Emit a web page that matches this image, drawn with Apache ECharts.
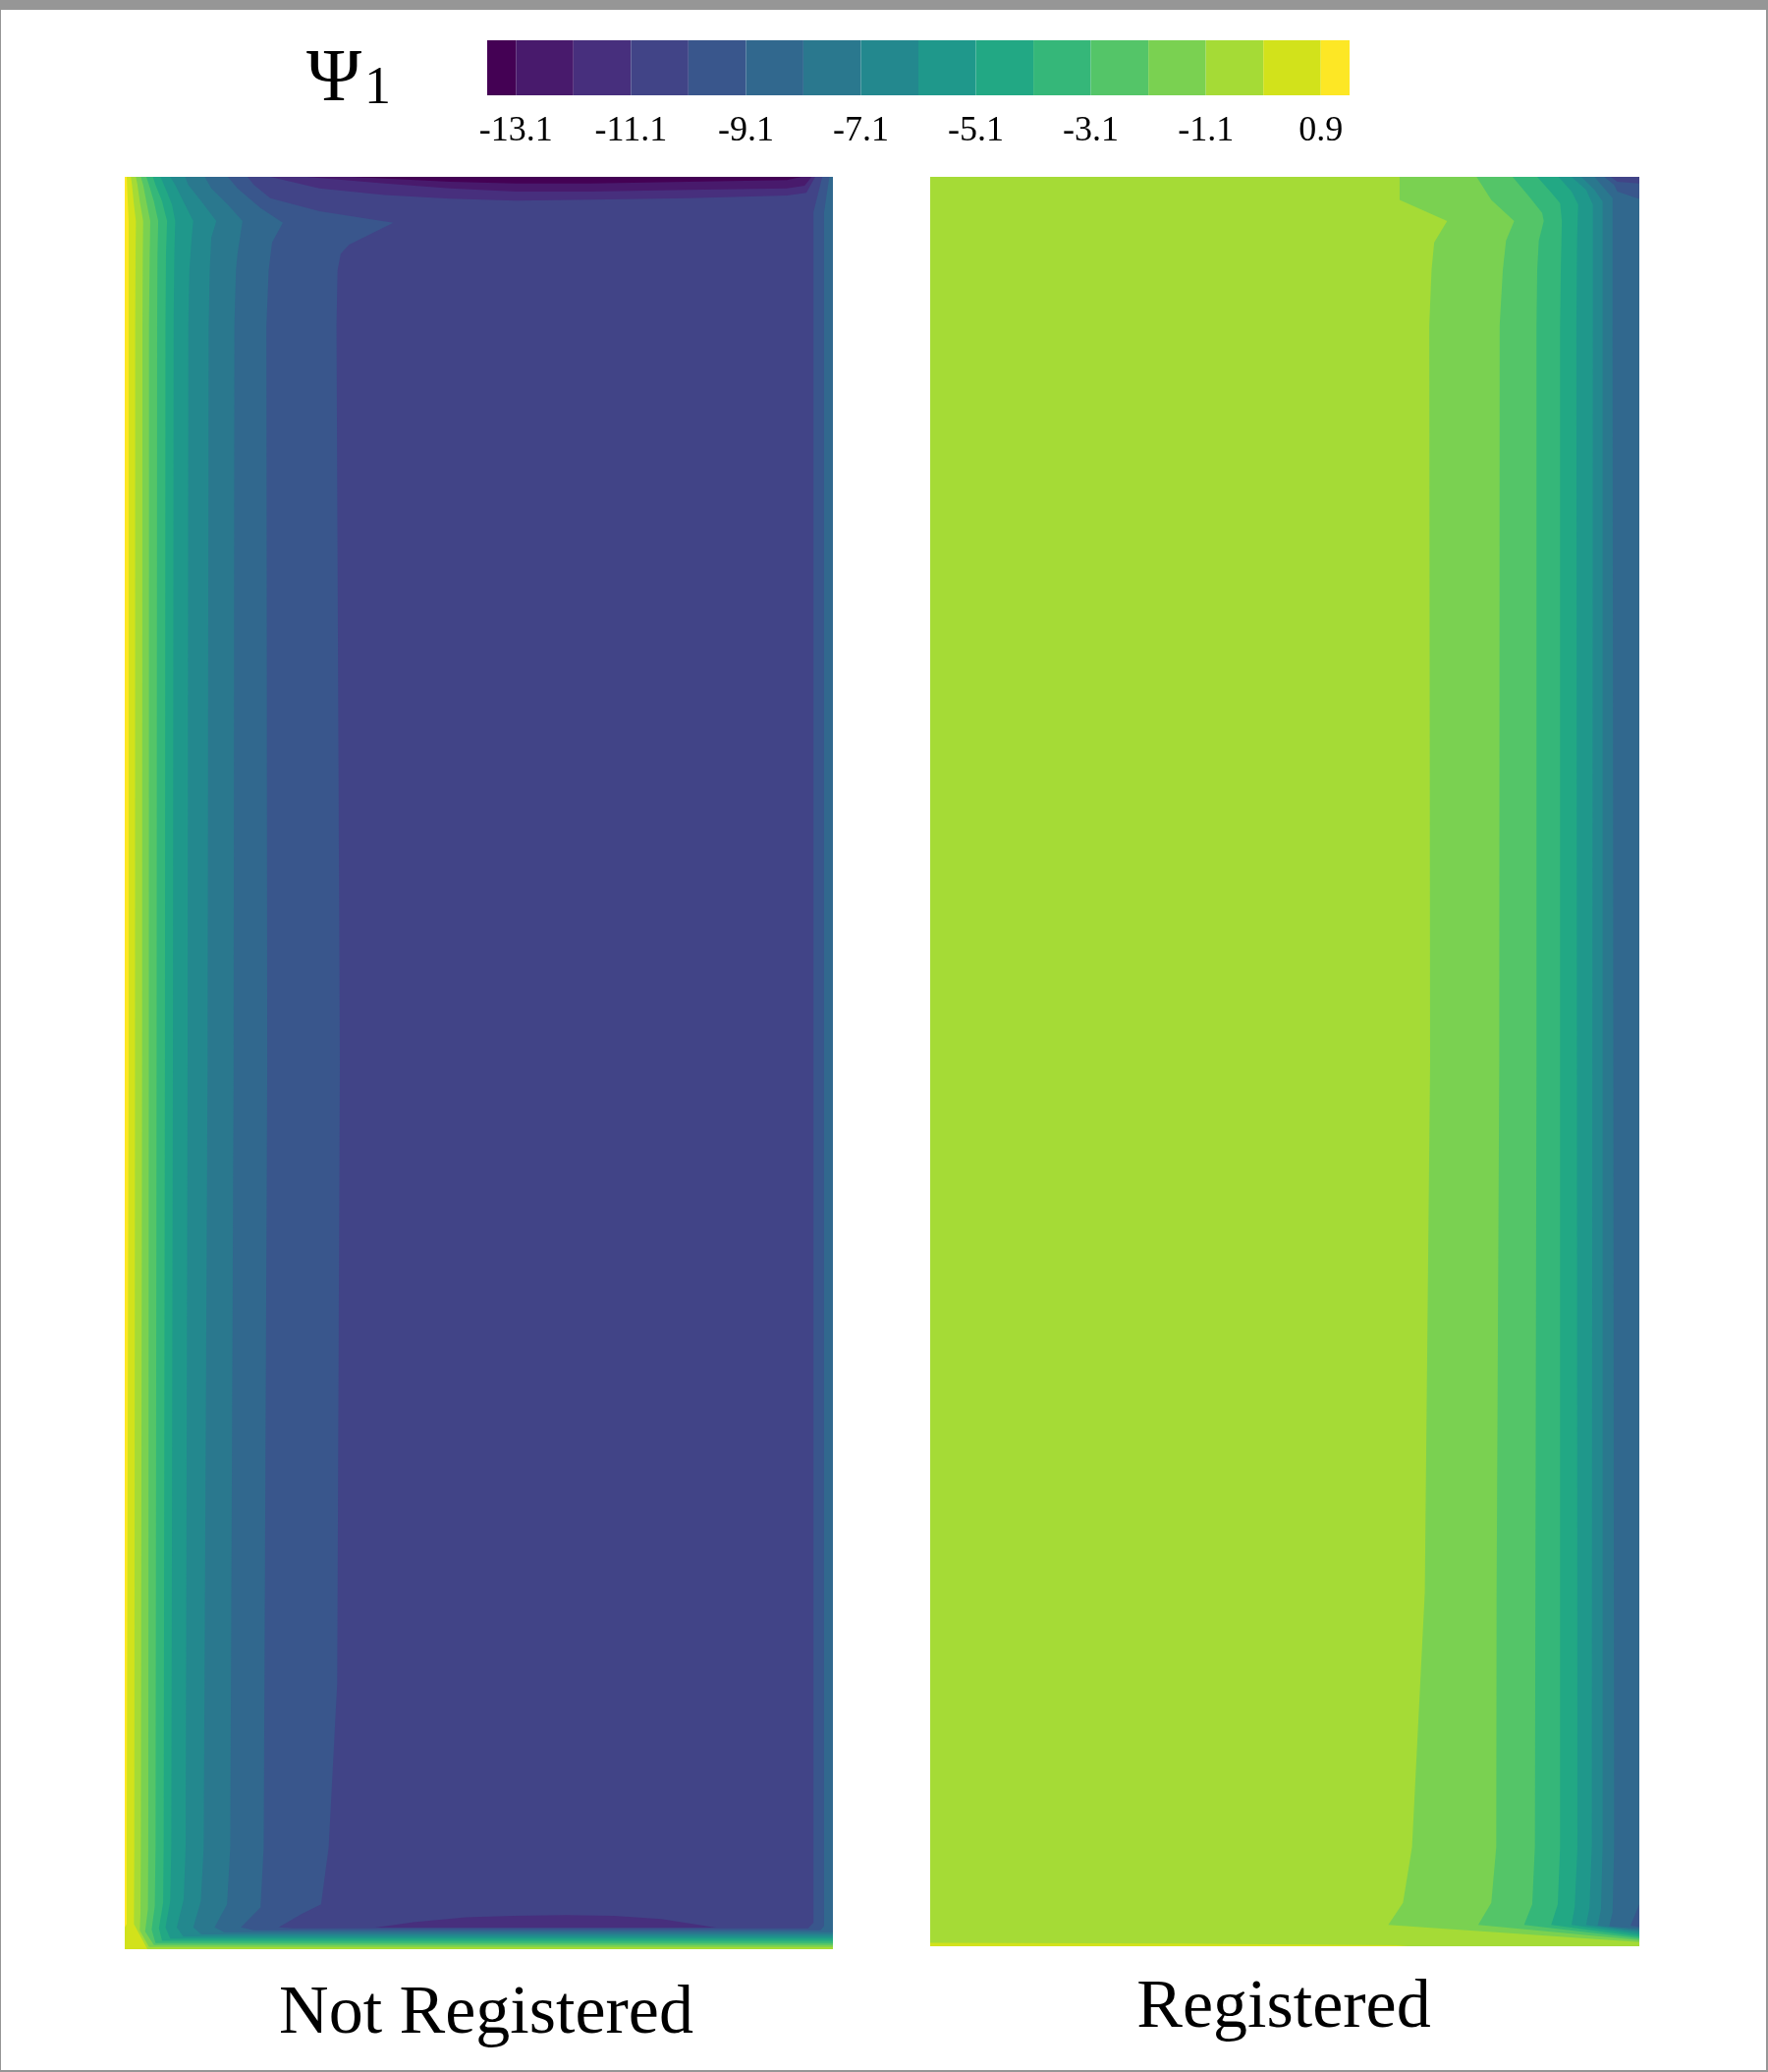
<!DOCTYPE html>
<html><head><meta charset="utf-8">
<script src="https://cdn.jsdelivr.net/npm/echarts/dist/echarts.min.js"></script>
<style>html,body{margin:0;padding:0;background:#fff}#c{width:1800px;height:2109px}</style>
</head><body><div id="c"></div>
<script>
// ---- colour scale (contour band edges of Psi_1) ----
const bandEdges = [-13.6,-13.1,-12.1,-11.1,-10.1,-9.1,-8.1,-7.1,-6.1,-5.1,-4.1,-3.1,-2.1,-1.1,-0.1,0.9,1.4];
const palette = ['#440154','#481a6c','#472f7d','#414487','#39568c','#31688e','#2a788e','#23888e',
                 '#1f988b','#22a884','#35b779','#54c568','#7ad151','#a5db36','#d2e21b','#fde725'];
const tickValues = [-13.1,-11.1,-9.1,-7.1,-5.1,-3.1,-1.1,0.9];
const panelTitles = ['Not Registered','Registered'];

// ---- contour lines, domain x 0..40, y 0..100 (from top) ----
// "Not Registered" panel: interior value band and contour lines
const NR_interior = -10.6;
const NR_b0  = [[0.11,0],[0.13,0.46],[0.17,1.39],[0.22,2.49],[0.22,8.41],[0.22,50],[0.11,94.24],[0.11,98.58],[0,98.76]];
const NR_b1  = [[0.35,0],[0.41,0.46],[0.5,1.39],[0.63,2.49],[0.61,4.34],[0.59,8.41],[0.58,50],[0.54,94.24],[0.52,98.58],[1.28,100]];
const NR_b2  = [[0.63,0],[0.72,0.46],[0.85,1.39],[1.04,2.49],[1.02,4.34],[1.0,8.41],[0.98,50],[0.91,94.24],[0.89,97.93],[0.85,98.95],[1.37,99.88],[40,99.88]];
const NR_b3  = [[0.91,0],[1.04,0.46],[1.22,1.39],[1.44,2.49],[1.41,4.34],[1.37,8.41],[1.36,50],[1.33,94.24],[1.31,97.74],[1.15,99.0],[1.65,99.76],[40,99.76]];
const NR_b4  = [[1.22,0],[1.37,0.46],[1.65,1.39],[1.89,2.49],[1.85,4.34],[1.83,8.41],[1.8,50],[1.74,94.24],[1.70,97.56],[1.52,98.89],[1.74,99.65],[40,99.65]];
const NR_b5  = [[1.59,0],[1.74,0.46],[2.11,1.39],[2.39,2.49],[2.33,4.34],[2.30,8.41],[2.27,50],[2.20,94.24],[2.17,97.37],[1.93,98.82],[2.11,99.53],[40,99.53]];
const NR_b6  = [[2.02,0],[2.30,0.65],[2.67,1.57],[2.85,2.49],[2.80,4.34],[2.76,8.41],[2.72,50],[2.63,94.24],[2.57,97.28],[2.30,98.76],[2.57,99.41],[40,99.41]];
const NR_b7  = [[2.57,0],[2.85,0.46],[3.31,1.39],[3.87,2.49],[3.78,3.42],[3.65,5.27],[3.59,8.41],[3.55,50],[3.44,94.24],[3.33,97.19],[2.94,98.76],[3.31,99.29],[40,99.29]];
const NR_b8  = [[3.41,0],[3.59,0.46],[4.33,1.39],[5.17,2.49],[4.89,3.42],[4.80,5.27],[4.74,8.41],[4.68,50],[4.46,94.24],[4.30,97.28],[3.87,98.76],[4.33,99.17],[40,99.17]];
const NR_b9  = [[4.52,0],[4.89,0.65],[5.82,1.57],[6.65,2.49],[6.37,4.34],[6.28,5.27],[6.19,8.41],[6.15,50],[5.96,94.24],[5.78,97.47],[5.07,98.76],[5.63,99.05],[40,99.05]];
const NR_b10 = [[5.82,0],[6.37,0.65],[7.67,1.76],[8.93,2.59],[8.32,3.70],[8.13,5.27],[8.0,8.41],[8.05,50],[7.85,94.24],[7.67,97.65],[6.56,98.76],[7.30,98.93],[39.3,98.93],[39.5,98.7],[39.5,2.0],[39.8,0]];
const NR_b11 = [[6.93,0],[7.30,0.46],[8.22,1.20],[11.0,1.94],[15.17,2.59],[12.67,3.82],[12.2,4.34],[12.02,5.27],[11.96,8.41],[12.15,50],[12.0,85],[11.52,94.24],[11.09,97.47],[9.98,98.02],[8.69,98.76],[9.52,98.82],[38.6,98.82],[38.9,98.5],[38.9,2.0],[39.4,0]];
const NR_t11 = [[8.22,0],[11.0,0.65],[14.7,1.02],[18.4,1.23],[22.1,1.35],[26.3,1.29],[31.8,1.2],[37.4,1.05],[38.5,0.9],[39.0,0]];
const NR_t12 = [[10.3,0],[14.7,0.37],[18.4,0.65],[22.1,0.83],[26.3,0.83],[31.8,0.74],[37.4,0.65],[38.4,0.5],[38.8,0]];
const NR_t13 = [[12.85,0],[18.4,0.28],[22.1,0.37],[26.3,0.37],[31.8,0.28],[37.4,0.18],[38.2,0]];
const NR_lens = [[14.15,98.78],[16.3,98.48],[19.27,98.2],[21.96,98.11],[24.9,98.08],[27.6,98.11],[30.3,98.3],[33.4,98.78]];

// "Registered" panel
const R_interior = -0.6;
const R_c0  = [[0,99.8],[14,99.85],[26.3,99.95],[27,100]];
const R_c1  = [[26.48,0],[26.48,1.30],[29.16,2.50],[28.43,3.70],[28.28,5.27],[28.15,8.42],[28.2,50],[27.9,80],[27.18,94.39],[26.67,97.54],[25.84,98.79],[40,99.76]];
const R_c2  = [[30.82,0],[31.65,1.30],[32.94,2.50],[32.48,3.61],[32.3,5.27],[32.12,8.42],[32.1,50],[31.95,80],[31.93,94.39],[31.65,97.54],[30.91,98.79],[40,99.65]];
const R_c3  = [[32.85,0],[33.78,1.11],[34.52,2.04],[34.61,2.50],[34.33,3.61],[34.24,5.27],[34.2,8.42],[34.2,50],[34.11,94.39],[33.96,97.63],[33.5,98.79],[40,99.55]];
const R_c4  = [[34.24,0],[34.98,0.83],[35.53,1.48],[35.63,2.5],[35.57,5.27],[35.53,8.42],[35.53,94.39],[35.4,97.63],[35.03,98.79],[40,99.46]];
const R_c5  = [[35.44,0],[36.18,0.83],[36.55,1.57],[36.49,3.42],[36.45,8.42],[36.51,94.39],[36.36,97.72],[36.18,98.79],[40,99.35]];
const R_c6  = [[36.18,0],[37.0,0.74],[37.38,1.57],[37.38,8.42],[37.32,94.39],[37.19,97.81],[37.0,98.79],[40,99.24]];
const R_c7  = [[36.73,0],[37.47,0.74],[37.93,1.39],[37.93,8.42],[37.93,94.39],[37.84,97.91],[37.65,98.83],[40,99.13]];
const R_c8  = [[37.47,0],[38.02,0.65],[38.49,1.2],[38.49,8.42],[38.58,94.39],[38.49,98.09],[38.3,98.87],[40,99.02]];
const R_c9a = [[38.02,0],[38.58,0.46],[38.76,0.83],[39.83,1.2],[40,1.24]];
const R_c9b = [[40,97.63],[39.5,98.83],[40,98.92]];
const R_c10 = [[38.39,0],[38.76,0.28],[40,0.37]];

const DOMAIN = [[0,0],[40,0],[40,100],[0,100]];

// region lists: [line, level, side]  (side 'gt' => values above level on the wall side)
const NR_regions = [
  [DOMAIN, NR_interior, 'fill'],
  [NR_b11,-10.1,'gt'],[NR_b10,-9.1,'gt'],[NR_b9,-8.1,'gt'],[NR_b8,-7.1,'gt'],[NR_b7,-6.1,'gt'],
  [NR_b6,-5.1,'gt'],[NR_b5,-4.1,'gt'],[NR_b4,-3.1,'gt'],[NR_b3,-2.1,'gt'],[NR_b2,-1.1,'gt'],
  [NR_b1,-0.1,'gt'],[NR_b0,0.9,'gt'],
  [NR_t11,-11.1,'lt'],[NR_t12,-12.1,'lt'],[NR_t13,-13.1,'lt'],[NR_lens,-11.1,'loop']
];
const R_regions = [
  [DOMAIN, R_interior, 'fill'],
  [R_c0,-0.1,'gt'],
  [R_c1,-1.1,'lt'],[R_c2,-2.1,'lt'],[R_c3,-3.1,'lt'],[R_c4,-4.1,'lt'],[R_c5,-5.1,'lt'],
  [R_c6,-6.1,'lt'],[R_c7,-7.1,'lt'],[R_c8,-8.1,'lt'],[R_c9a,-9.1,'lt'],[R_c9b,-9.1,'lt'],[R_c10,-10.1,'lt']
];

// ---- helpers ----
function edgeT(p){
  const e=1e-9, x=p[0], y=p[1];
  if (Math.abs(y)<e) return x/40;
  if (Math.abs(x-40)<e) return 1+y/100;
  if (Math.abs(y-100)<e) return 2+(40-x)/40;
  if (Math.abs(x)<e) return 3+(100-y)/100;
  return null;
}
const cornerPts = [[0,0],[40,0],[40,100],[0,100]];
function closePoly(line, side){
  if (side==='fill' || side==='loop') return line.slice();
  const out = line.slice();
  const ts = edgeT(line[0]), te = edgeT(line[line.length-1]);
  if (side==='gt'){
    let target = ts; if (target<=te) target += 4;
    for (let c=Math.floor(te)+1; c<target; c++) out.push(cornerPts[c%4]);
  } else {
    let target = ts; if (target>=te) target -= 4;
    for (let c=Math.ceil(te)-1; c>target; c--) out.push(cornerPts[((c%4)+4)%4]);
  }
  return out;
}
function regionValue(level, side){
  if (side==='gt') return level+0.01;
  if (side==='lt' || side==='loop') return level-0.01;
  return level;
}
function buildRegions(list){
  return list.map(r=>({poly: closePoly(r[0], r[2]), value: regionValue(r[1], r[2])}));
}
const NR_polys = buildRegions(NR_regions);
const R_polys = buildRegions(R_regions);

function panelSeries(polys, idx){
  return {
    type:'custom', xAxisIndex: idx, yAxisIndex: idx, silent:true, clip:true,
    data: polys.map((p,i)=>[i, p.value]),
    encode:{x:0, y:1},
    renderItem:(params, api)=>{
      const i = api.value(0);
      const pts = polys[i].poly.map(p=>api.coord(p));
      return {type:'polygon', z2:i, shape:{points:pts}, style:{fill: api.visual('color')}};
    }
  };
}

const pieces = [];
for (let i=0;i<bandEdges.length-1;i++) pieces.push({gte:bandEdges[i], lt:bandEdges[i+1], color:palette[i]});

const cbData = [];
for (let i=0;i<bandEdges.length-1;i++) cbData.push([bandEdges[i], (bandEdges[i]+bandEdges[i+1])/2, bandEdges[i+1]]);

const serif = 'Liberation Serif, Times New Roman, serif';
const chart = echarts.init(document.getElementById('c'), null, {renderer:'canvas'});
chart.setOption({
  animation:false,
  backgroundColor:'#ffffff',
  grid:[
    {left:127, top:180, width:721, height:1804, containLabel:false},
    {left:947, top:180, width:722, height:1801, containLabel:false},
    {left:496, top:41, width:878, height:56, containLabel:false}
  ],
  xAxis:[
    {gridIndex:0, type:'value', min:0, max:40, show:false},
    {gridIndex:1, type:'value', min:0, max:40, show:false},
    {gridIndex:2, type:'value', min:bandEdges[0], max:bandEdges[bandEdges.length-1],
     axisLine:{show:false}, axisTick:{show:false}, splitLine:{show:false},
     axisLabel:{customValues: tickValues, formatter:v=>v.toFixed(1), fontFamily:serif, fontSize:36, color:'#000', margin:19}}
  ],
  yAxis:[
    {gridIndex:0, type:'value', min:0, max:100, inverse:true, show:false},
    {gridIndex:1, type:'value', min:0, max:100, inverse:true, show:false},
    {gridIndex:2, type:'value', min:0, max:1, show:false}
  ],
  visualMap:{type:'piecewise', show:false, dimension:1, seriesIndex:[0,1,2], pieces:pieces},
  series:[
    panelSeries(NR_polys, 0),
    panelSeries(R_polys, 1),
    {
      type:'custom', xAxisIndex:2, yAxisIndex:2, silent:true,
      data: cbData, encode:{x:[0,2], y:1},
      renderItem:(params, api)=>{
        const a = api.coord([api.value(0), 1]);
        const b = api.coord([api.value(2), 0]);
        return {type:'rect', shape:{x:a[0], y:a[1], width:b[0]-a[0], height:b[1]-a[1]}, style:{fill:api.visual('color')}};
      }
    }
  ],
  graphic:[
    {type:'rect', left:0, top:0, shape:{width:1800, height:10}, style:{fill:'#969696'}, silent:true},
    {type:'rect', left:0, top:0, shape:{width:1, height:2109}, style:{fill:'#969696'}, silent:true},
    {type:'rect', left:1798, top:0, shape:{width:2, height:2109}, style:{fill:'#969696'}, silent:true},
    {type:'rect', left:0, top:2107, shape:{width:1800, height:2}, style:{fill:'#969696'}, silent:true},
    {type:'text', x:312, y:82, style:{text:'Ψ', font:'76px '+serif, fill:'#000', textAlign:'left', textVerticalAlign:'middle'}},
    {type:'text', x:371, y:91, style:{text:'1', font:'54px '+serif, fill:'#000', textAlign:'left', textVerticalAlign:'middle'}},
    {type:'text', x:495, y:2051, style:{text:panelTitles[0], font:'70px '+serif, fill:'#000', textAlign:'center', textVerticalAlign:'middle'}},
    {type:'text', x:1307, y:2045, style:{text:panelTitles[1], font:'70px '+serif, fill:'#000', textAlign:'center', textVerticalAlign:'middle'}}
  ]
});
</script>
</body></html>
